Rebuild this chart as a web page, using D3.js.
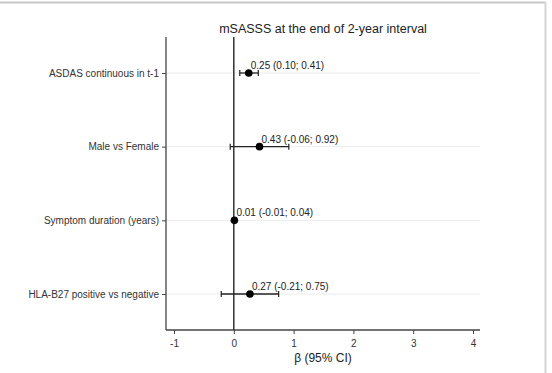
<!DOCTYPE html>
<html>
<head>
<meta charset="utf-8">
<script src="https://cdn.jsdelivr.net/npm/d3@7"></script>
<style>
  body{margin:0;background:#fff;}
  text{font-family:"Liberation Sans", Arial, sans-serif;}
</style>
</head>
<body>
<svg id="main"></svg>
<script>
//--------data----------
const labels = ['ASDAS continuous in t-1', 'Male vs Female', 'Symptom duration (years)', 'HLA-B27 positive vs negative'];
const beta = [0.25, 0.43, 0.01, 0.27];
const lower = [0.10, -0.06, -0.01, -0.21];
const upper = [0.41, 0.92, 0.04, 0.75];
const ciText = ['0.25 (0.10; 0.41)', '0.43 (-0.06; 0.92)', '0.01 (-0.01; 0.04)', '0.27 (-0.21; 0.75)'];
const xTicks = [-1, 0, 1, 2, 3, 4];

//--------code----------
let width = 552, height = 373;
let svg = d3.select('#main').attr('width', width).attr('height', height);

// frame lines
svg.append('line').attr('x1', 0).attr('x2', 546).attr('y1', 2.5).attr('y2', 2.5)
  .attr('stroke', '#c8c8c8').attr('stroke-width', 2);
svg.append('line').attr('x1', 545.5).attr('x2', 545.5).attr('y1', 2).attr('y2', height)
  .attr('stroke', '#d4d4d4').attr('stroke-width', 2);

let plotL = 166, plotR = 480, plotT = 37, plotB = 330;
let sx = d3.scaleLinear().domain([-1, 4]).range([174, 473]);
let sy = d3.scalePoint().domain(labels).range([73, 294]);

// gridlines
svg.selectAll('.grid').data(labels).join('line')
  .attr('class', 'grid')
  .attr('x1', plotL).attr('x2', plotR)
  .attr('y1', d => sy(d)).attr('y2', d => sy(d))
  .attr('stroke', '#ececec').attr('stroke-width', 1);

// axes
let ax = d3.axisBottom(sx).tickValues(xTicks).tickSize(4).tickPadding(6).tickFormat(d => String(d));
let gx = svg.append('g').attr('transform', `translate(0,${plotB})`).call(ax);
gx.select('.domain').attr('d', `M${plotL},0H${plotR}`).attr('stroke', '#444').attr('stroke-width', 1.3);
gx.selectAll('.tick line').attr('stroke', '#444');
gx.selectAll('.tick text').attr('fill', '#333').style('font-size', '10px')
  .style('font-family', '"Liberation Sans", Arial, sans-serif');

let ay = d3.axisLeft(sy).tickSize(4).tickPadding(3);
let gy = svg.append('g').attr('transform', `translate(${plotL},0)`).call(ay);
gy.select('.domain').attr('d', `M0,${plotT}V${plotB}`).attr('stroke', '#444').attr('stroke-width', 1.3);
gy.selectAll('.tick line').attr('stroke', '#444');
gy.selectAll('.tick text').attr('fill', '#333').style('font-size', '10px')
  .style('font-family', '"Liberation Sans", Arial, sans-serif');

// zero line
svg.append('line').attr('x1', sx(0)).attr('x2', sx(0)).attr('y1', plotT).attr('y2', plotB)
  .attr('stroke', '#333').attr('stroke-width', 1.5);

let rows = labels.map((l, i) => ({label: l, b: beta[i], lo: lower[i], hi: upper[i], txt: ciText[i]}));

// CI bars
svg.selectAll('.ci').data(rows).join('line')
  .attr('class', 'ci')
  .attr('x1', d => sx(d.lo)).attr('x2', d => sx(d.hi))
  .attr('y1', d => sy(d.label)).attr('y2', d => sy(d.label))
  .attr('stroke', '#222').attr('stroke-width', 1.3);
svg.selectAll('.capL').data(rows).join('line')
  .attr('class', 'capL')
  .attr('x1', d => sx(d.lo)).attr('x2', d => sx(d.lo))
  .attr('y1', d => sy(d.label) - 3).attr('y2', d => sy(d.label) + 3)
  .attr('stroke', '#222').attr('stroke-width', 1.2);
svg.selectAll('.capR').data(rows).join('line')
  .attr('class', 'capR')
  .attr('x1', d => sx(d.hi)).attr('x2', d => sx(d.hi))
  .attr('y1', d => sy(d.label) - 3).attr('y2', d => sy(d.label) + 3)
  .attr('stroke', '#222').attr('stroke-width', 1.2);

// points
svg.selectAll('.pt').data(rows).join('circle')
  .attr('class', 'pt')
  .attr('cx', d => sx(d.b)).attr('cy', d => sy(d.label))
  .attr('r', 3.8).attr('fill', '#000');

// value labels
svg.selectAll('.val').data(rows).join('text')
  .attr('class', 'val')
  .attr('x', d => sx(d.b) + 2).attr('y', d => sy(d.label) - 4)
  .attr('fill', '#222').style('font-size', '10px')
  .text(d => d.txt);

// title
svg.append('text').attr('x', 323).attr('y', 33).attr('text-anchor', 'middle')
  .attr('fill', '#222').style('font-size', '12.5px')
  .text('mSASSS at the end of 2-year interval');

// x label
svg.append('text').attr('x', 323).attr('y', 362).attr('text-anchor', 'middle')
  .attr('fill', '#222').style('font-size', '12px')
  .text('β (95% CI)');
</script>
</body>
</html>
